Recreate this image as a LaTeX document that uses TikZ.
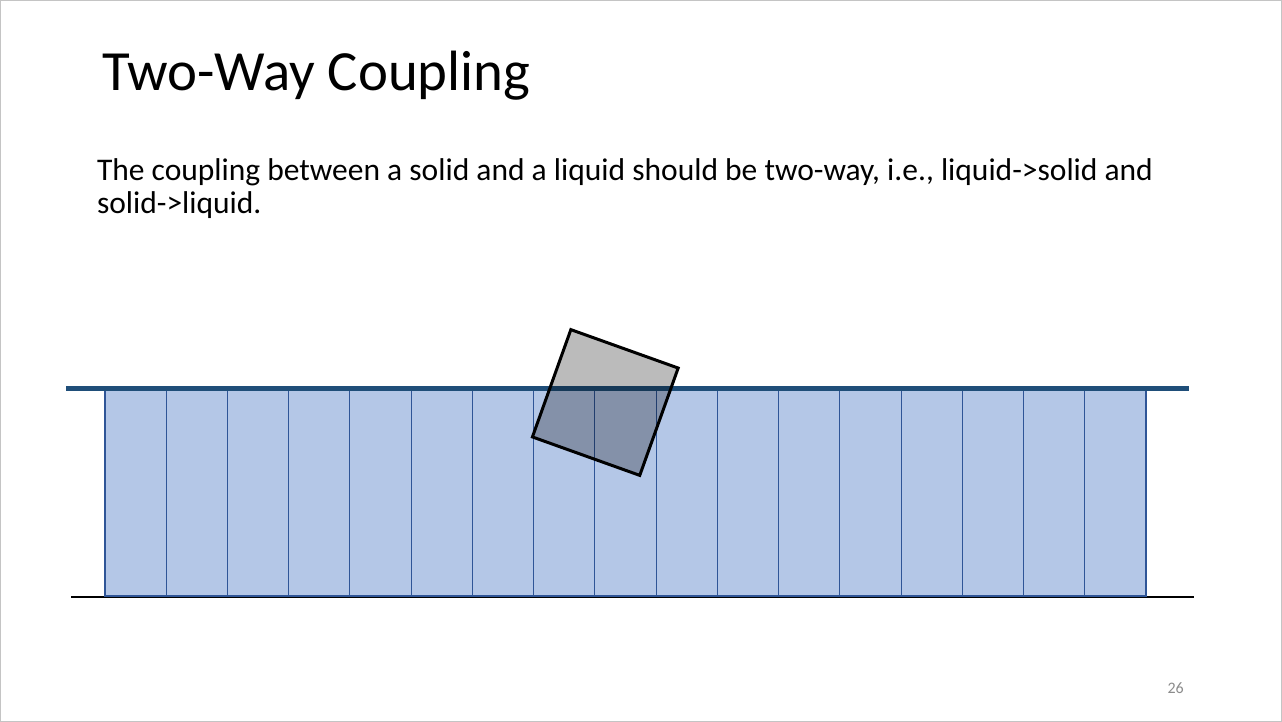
\documentclass[tikz,border=0pt]{standalone}
\usepackage{fontspec}
\setmainfont{Carlito}
\definecolor{waterfill}{HTML}{B4C7E7}
\definecolor{colline}{HTML}{2F5597}
\definecolor{surface}{HTML}{1F4E79}
\definecolor{boxgrey}{HTML}{BBBBBB}
\definecolor{framecol}{HTML}{C4C4C4}
\definecolor{pagenum}{HTML}{8C8C8C}
\begin{document}
\begin{tikzpicture}[x=1pt,y=-1pt,
  col/.style={draw=colline, fill=waterfill, line width=1.1pt, minimum width=61.24pt, minimum height=206pt, inner sep=0pt, outer sep=0pt, anchor=north west},
  solidbox/.style={draw=black, line width=3pt, fill=boxgrey, minimum size=114pt, inner sep=0pt, blend mode=multiply},
  txt/.style={inner sep=0pt, outer sep=0pt, anchor=base west}]
\useasboundingbox (0,0) rectangle (1282,722);
\fill[white] (0,0) rectangle (1282,722);
\draw[framecol, line width=1pt] (0.5,0.5) rectangle (1281.5,721.5);
% title and text
\node[txt, font=\fontsize{56.8}{68}\selectfont] (title) at (102,91) {Two-Way Coupling};
\node[txt, align=left, font=\fontsize{31.5}{33}\selectfont] (body) at (97,214) {The coupling between a solid and a liquid should be two-way, i.e., liquid->solid and\\solid->liquid.};
\node[inner sep=0pt, anchor=base east, font=\fontsize{16}{16}\selectfont, text=pagenum] (pg) at (1184,693) {26};
% floor line
\coordinate (fl) at (71,597);
\coordinate (fr) at (1194,597);
\draw[black, line width=1.3pt] (fl) -- (fr);
% water columns
\foreach \i in {0,...,16} {
  \node[col] (c\i) at ({105+\i*61.235},390) {};
}
% surface line
\coordinate (sl) at (66,388.5);
\coordinate (sr) at (1189,388.5);
\draw[surface, line width=4.5pt] (sl) -- (sr);
% solid
\node[solidbox, rotate=-19.7] (solid) at (605.3,402.5) {};
\end{tikzpicture}
\end{document}
